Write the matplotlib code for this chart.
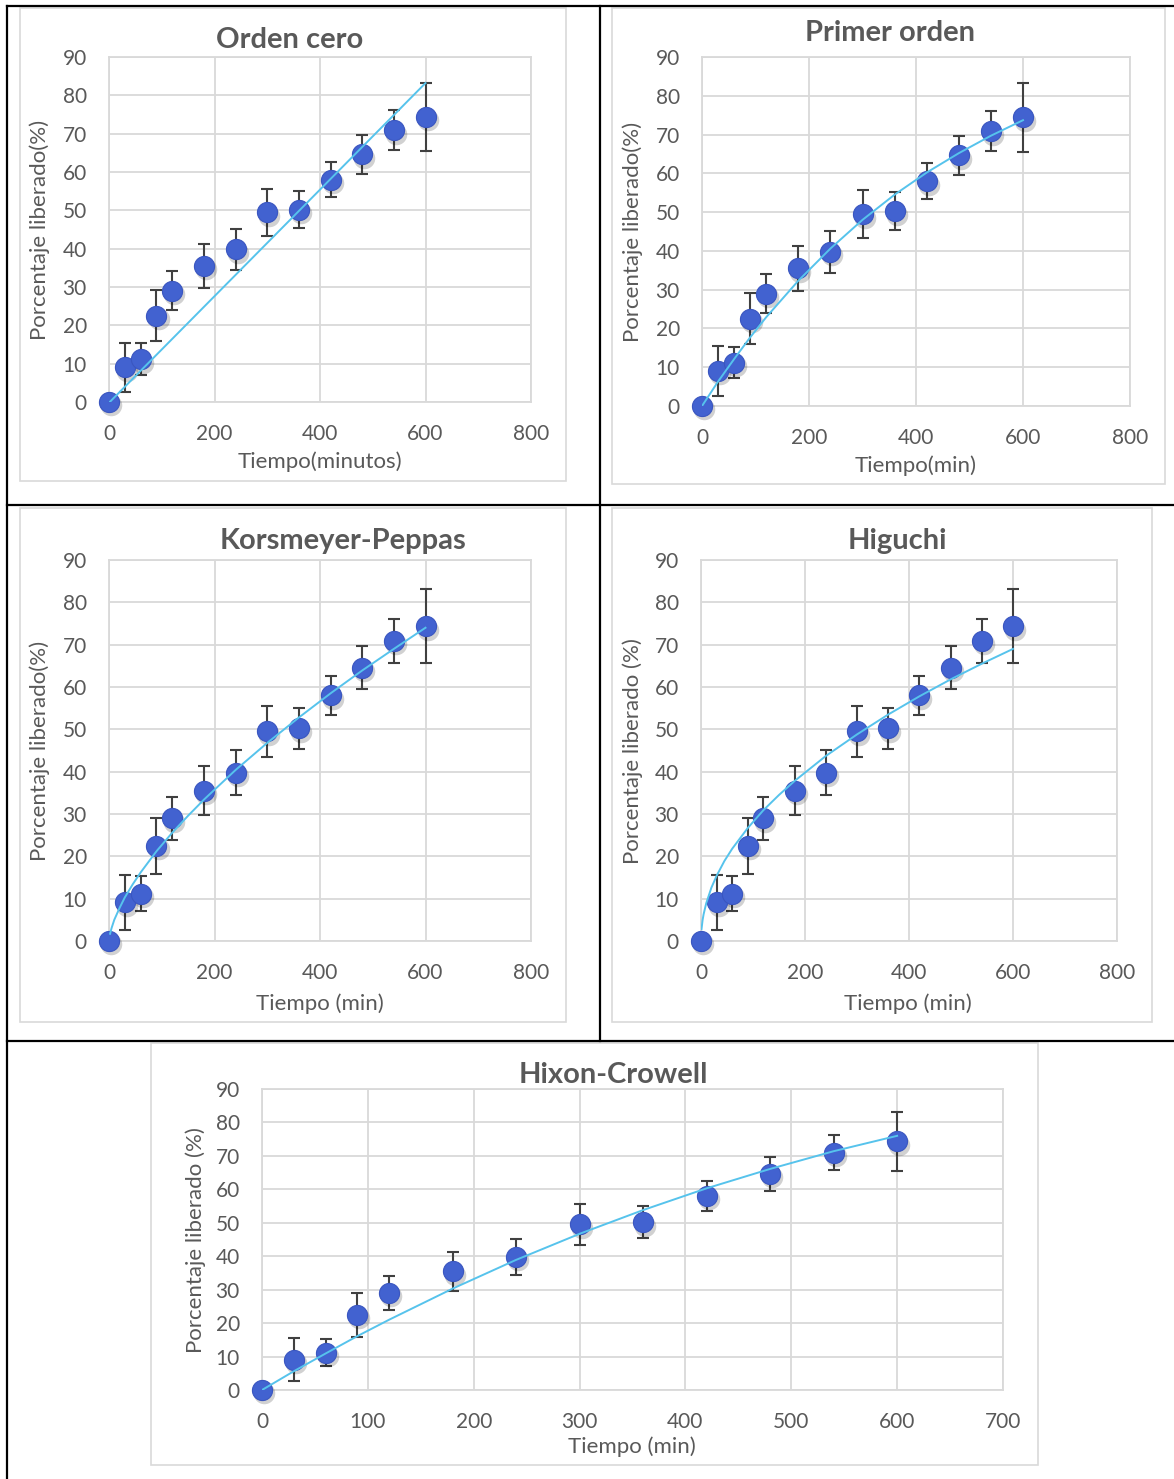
import numpy as np
import matplotlib
matplotlib.use('Agg')
import matplotlib.pyplot as plt
from matplotlib.lines import Line2D
from matplotlib.patches import Rectangle
from matplotlib.transforms import offset_copy

plt.rcParams['font.family'] = ['Lato', 'DejaVu Sans']

W, H = 1174, 1479

# measured release data (same for all five panels)
tiempo = [0, 30, 60, 90, 120, 180, 240, 300, 360, 420, 480, 540, 600]
liberado = [0, 9.1, 11.2, 22.5, 29.0, 35.5, 39.8, 49.5, 50.2, 58.0, 64.6, 70.9, 74.4]
desv = [0, 6.4, 4.1, 6.6, 5.1, 5.8, 5.4, 6.1, 4.9, 4.6, 5.1, 5.2, 8.8]

# fitted curves
cero_x = [0, 600]
cero_y = [-0.2, 83.2]

primer_x = [0, 30, 60, 90, 120, 180, 240, 300, 360, 420, 480, 540, 600]
primer_y = [0, 6.3, 12.1, 17.7, 22.9, 32.3, 40.6, 48.0, 54.5, 60.2, 65.2, 69.7, 73.7]

kp_x = [2, 5, 10, 20, 30, 45, 60, 90, 120, 150, 180, 240, 300, 360, 420, 480, 540, 600]
kp_y = [1.7, 3.1, 5.0, 7.8, 10.3, 13.4, 16.2, 21.2, 25.6, 29.6, 33.4, 40.4, 46.8, 52.8, 58.5, 63.9, 69.0, 74.0]

hig_x = [1, 3, 5, 10, 20, 30, 45, 60, 90, 120, 150, 180, 240, 300, 360, 420, 480, 540, 600]
hig_y = [2.8, 4.9, 6.3, 8.9, 12.6, 15.4, 18.9, 21.8, 26.7, 30.9, 34.5, 37.8, 43.7, 48.8, 53.5, 57.8, 61.8, 65.5, 69.0]

hc_x = [0, 30, 60, 90, 120, 180, 240, 300, 360, 420, 480, 540, 600]
hc_y = [0, 5.6, 10.9, 16.1, 21.0, 30.3, 38.9, 46.7, 53.8, 60.3, 66.1, 71.4, 76.0]

TXT = '#595959'
GRID = '#D9D9D9'
AZUL = '#4262D0'
LINEA = '#56C3EC'

fig = plt.figure(figsize=(W / 100, H / 100), dpi=100)


def caja(l, t, r, b):
    return [l / W, 1 - b / H, (r - l) / W, (b - t) / H]


def fx(x):
    return x / W


def fy(y):
    return 1 - y / H


def panel(box, chart, titulo, tpos, ylab, ypos, xlab, xpos, fitx, fity, xmax, xstep):
    # light gray Excel chart frame
    fig.add_artist(Rectangle((fx(chart[0]), fy(chart[3])),
                             fx(chart[2] - chart[0]), (chart[3] - chart[1]) / H,
                             transform=fig.transFigure, fill=False,
                             edgecolor=GRID, lw=1.2))
    ax = fig.add_axes(caja(*box))
    ax.set_xlim(0, xmax)
    ax.set_ylim(0, 90)
    ax.set_xticks(np.arange(0, xmax + 1, xstep))
    ax.set_yticks(np.arange(0, 91, 10))
    ax.grid(True, color=GRID, lw=1.3)
    ax.set_axisbelow(True)
    for s in ax.spines.values():
        s.set_color(GRID)
        s.set_linewidth(1.3)
    ax.tick_params(length=0, pad=16, labelsize=15, labelcolor=TXT)

    ax.errorbar(tiempo, liberado, yerr=desv, fmt='none', ecolor='#404040',
                elinewidth=1.5, capsize=4.5, capthick=1.5, zorder=2)
    sombra = offset_copy(ax.transData, fig=fig, x=1.5, y=-2.5, units='points')
    ax.plot(tiempo, liberado, linestyle='none', marker='o', ms=15.5,
            mfc='#000000', mec='none', alpha=0.18, transform=sombra,
            zorder=3, clip_on=False)
    ax.plot(tiempo, liberado, linestyle='none', marker='o', ms=14.5,
            mfc=AZUL, mec='#3A56C0', mew=0.8, zorder=4, clip_on=False)
    ax.plot(fitx, fity, color=LINEA, lw=1.4, zorder=5)

    fig.text(fx(tpos[0]), fy(tpos[1]), titulo, ha='center', va='center',
             fontsize=21, fontweight='bold', color=TXT)
    fig.text(fx(ypos[0]), fy(ypos[1]), ylab, ha='center', va='center',
             rotation=90, fontsize=16, color=TXT)
    fig.text(fx(xpos[0]), fy(xpos[1]), xlab, ha='center', va='center',
             fontsize=16, color=TXT)
    return ax


panel((109, 57, 531, 402), (20, 8, 566, 481), 'Orden cero', (290, 40),
      'Porcentaje liberado(%)', (40, 230), 'Tiempo(minutos)', (320, 462),
      cero_x, cero_y, 800, 200)
panel((702, 57, 1130, 406), (612, 8, 1165, 484), 'Primer orden', (890, 33),
      'Porcentaje liberado(%)', (633, 232), 'Tiempo(min)', (916, 466),
      primer_x, primer_y, 800, 200)
panel((109, 560, 531, 941), (20, 508, 566, 1022), 'Korsmeyer-Peppas', (343, 541),
      'Porcentaje liberado(%)', (40, 751), 'Tiempo (min)', (320, 1004),
      kp_x, kp_y, 800, 200)
panel((701, 560, 1117, 941), (612, 508, 1152, 1022), 'Higuchi', (897, 541),
      'Porcentaje liberado (%)', (633, 751), 'Tiempo (min)', (908, 1004),
      hig_x, hig_y, 800, 200)
panel((262, 1089, 1003, 1390), (151, 1043, 1038, 1465), 'Hixon-Crowell', (613, 1075),
      'Porcentaje liberado (%)', (196, 1240), 'Tiempo (min)', (632, 1447),
      hc_x, hc_y, 700, 100)

# black table borders of the document
bordes = [((7, 1174), (6, 6)), ((7, 7), (6, 1479)), ((600, 600), (6, 1041)),
          ((7, 1174), (505, 505)), ((7, 1174), (1041, 1041))]
for xs, ys in bordes:
    fig.add_artist(Line2D([fx(xs[0]), fx(xs[1])], [fy(ys[0]), fy(ys[1])],
                          transform=fig.transFigure, color='black', lw=1.6))

fig.savefig('out.png', dpi=100)
